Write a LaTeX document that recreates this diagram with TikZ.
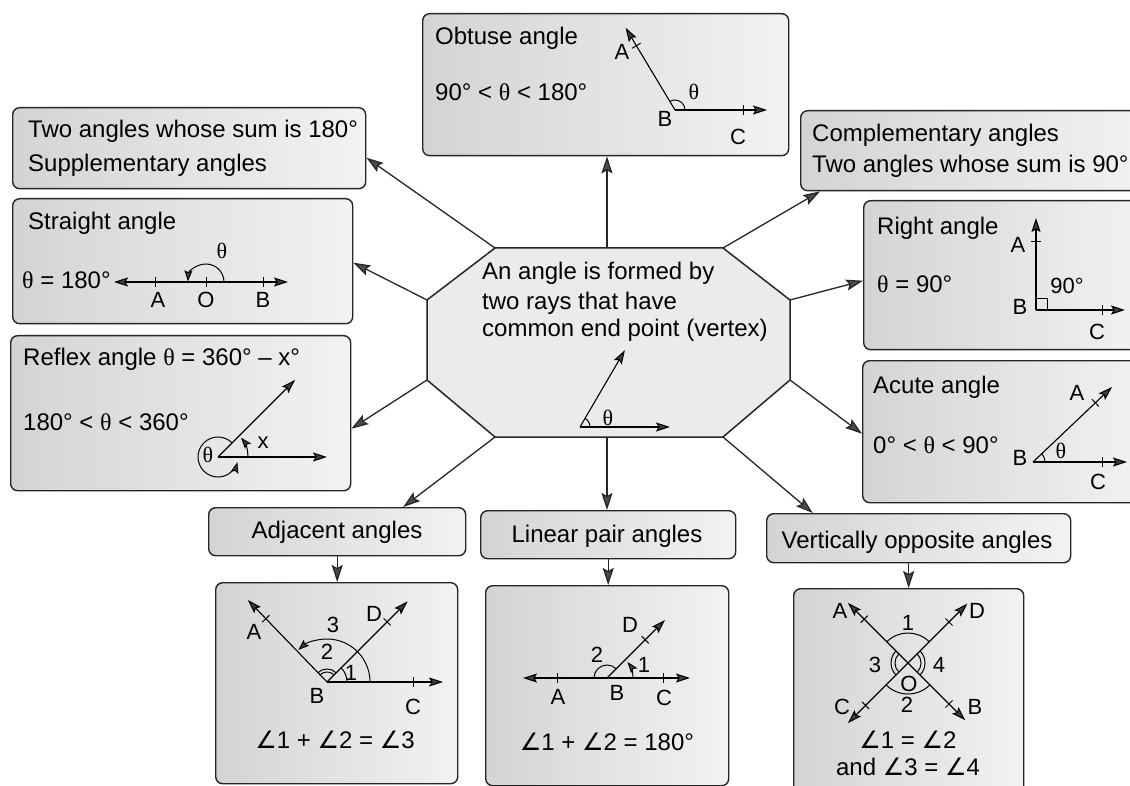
\documentclass[tikz,border=0pt]{standalone}
\usepackage{fontspec}
\setmainfont{Liberation Sans}
\newfontfamily\thfont{Liberation Serif}
\newfontfamily\dvfont{DejaVu Sans}
\usetikzlibrary{arrows.meta,calc}
\newcommand{\thet}{{\thfont θ}}
\newcommand{\ang}{{\dvfont ∠}}
\newcommand{\tkmark}[3]{\draw[tick] ($(#1)+(#2:#3pt)$) +(#2+90:5pt) -- +(#2-90:5pt);}
\tikzset{
 box/.style={draw=black!85, line width=1.4pt, rounded corners=7pt, left color=black!17, right color=black!5, inner sep=0pt, anchor=north west},
 conn/.style={line width=1.3pt, draw=black!85, -{Stealth[length=17pt,width=11pt,inset=3pt,fill=black!70]}},
 ray/.style={line width=1.1pt, -{Stealth[length=14pt,width=9pt,inset=2.5pt,fill=black!75]}},
 bray/.style={line width=1.1pt, {Stealth[length=14pt,width=9pt,inset=2.5pt,fill=black!75]}-{Stealth[length=14pt,width=9pt,inset=2.5pt,fill=black!75]}},
 arcl/.style={line width=1pt},
 arca/.style={line width=1pt, -{Stealth[length=11pt,width=8pt,inset=2pt,fill=black!75]}},
 txt/.style={font=\fontsize{24}{28}\selectfont, inner sep=0pt, anchor=base west},
 ctxt/.style={font=\fontsize{24}{28}\selectfont, inner sep=0pt, anchor=base},
 lbl/.style={font=\fontsize{22}{26}\selectfont, inner sep=0pt},
 tick/.style={line width=1pt}
}
\begin{document}
\begin{tikzpicture}[x=1pt,y=-1pt]
\useasboundingbox (0,0) rectangle (1130,786);
\clip (0,0) rectangle (1130,786);
\fill[white] (0,0) rectangle (1130,786);

% ---------- boxes ----------
\node[box, minimum width=366pt, minimum height=142pt] (obt) at (422,13) {};
\node[box, minimum width=353pt, minimum height=81pt] (supp) at (12,107) {};
\node[box, minimum width=340pt, minimum height=125pt] (str) at (12,198) {};
\node[box, minimum width=340pt, minimum height=155pt] (rfx) at (10,335) {};
\node[box, minimum width=345pt, minimum height=80pt] (comp) at (800,110) {};
\node[box, minimum width=282pt, minimum height=149pt] (rgt) at (863,200) {};
\node[box, minimum width=283pt, minimum height=142pt] (acu) at (862,360) {};
\node[box, minimum width=257pt, minimum height=48pt] (adjl) at (208,507) {};
\node[box, minimum width=242pt, minimum height=201pt] (adjc) at (215,582) {};
\node[box, minimum width=255pt, minimum height=48pt] (linl) at (480,510) {};
\node[box, minimum width=243pt, minimum height=200pt] (linc) at (485,585) {};
\node[box, minimum width=304pt, minimum height=49pt] (vl) at (766,513) {};
\node[box, minimum width=230pt, minimum height=204pt] (vc) at (793,588) {};

% ---------- octagon ----------
\coordinate (o1) at (495,248); \coordinate (o2) at (723,248);
\coordinate (o3) at (790,300); \coordinate (o4) at (790,380);
\coordinate (o5) at (723,437); \coordinate (o6) at (495,437);
\coordinate (o7) at (427,380); \coordinate (o8) at (427,300);
\coordinate (ot) at (607,248); \coordinate (ob) at (607,437);
\draw[line width=1.5pt, draw=black!85, fill=black!8] (o1)--(o2)--(o3)--(o4)--(o5)--(o6)--(o7)--(o8)--cycle;

% ---------- connectors ----------
\draw[conn] (ot) -- (ot |- obt.south);
\draw[conn] (o1) -- ([yshift=-9.5pt]supp.east);
\draw[conn] (o8) -- ([yshift=-1.5pt]str.east);
\draw[conn] (o7) -- ([yshift=-15.5pt]rfx.east);
\draw[conn] (o6) -- ([xshift=66pt]adjl.north);
\draw[conn] (ob) -- (ob |- linl.north);
\draw[conn] (o5) -- ([xshift=-106pt]vl.north);
\draw[conn] (o2) -- ([xshift=20pt]comp.south west);
\draw[conn] (o3) -- ([yshift=-5.5pt]rgt.west);
\draw[conn] (o4) -- ([yshift=-2pt]acu.west);
\draw[conn] (adjl.south) -- (adjl.south |- adjc.north);
\draw[conn] (linl.south) -- (linl.south |- linc.north);
\draw[conn] (vc.north |- vl.south) -- (vc.north);

% ---------- texts ----------
\node[txt] (t1) at (435,45) {Obtuse angle};
\node[txt] (t2) at (435,101) {90° < \thet{} < 180°};
\node[txt] (t3) at (28,138) {Two angles whose sum is 180°};
\node[txt] (t4) at (28,172) {Supplementary angles};
\node[txt] (t5) at (28,230) {Straight angle};
\node[txt] (t6) at (22,289) {\thet{} = 180°};
\node[txt] (t7) at (23,365) {Reflex angle \thet{} = 360° – x°};
\node[txt] (t8) at (23,430) {180° < \thet{} < 360°};
\node[txt] (t9) at (812,142) {Complementary angles};
\node[txt] (t10) at (812,173) {Two angles whose sum is 90°};
\node[txt] (t11) at (877,235) {Right angle};
\node[txt] (t12) at (877,293) {\thet{} = 90°};
\node[txt] (t13) at (873,393) {Acute angle};
\node[txt] (t14) at (873,453) {0° < \thet{} < 90°};
\node[txt] (t15) at (482,280) {An angle is formed by};
\node[txt] (t16) at (482,310) {two rays that have};
\node[txt] (t17) at (482,337) {common end point (vertex)};
\node[ctxt] (t18) at (337,538) {Adjacent angles};
\node[ctxt] (t19) at (607,542) {Linear pair angles};
\node[ctxt] (t20) at (917,548) {Vertically opposite angles};
\node[ctxt] (t21) at (335,748) {\ang1 + \ang2 = \ang3};
\node[ctxt] (t22) at (607,750) {\ang1 + \ang2 = 180°};
\node[ctxt] (t23) at (908,748) {\ang1 = \ang2};
\node[ctxt] (t24) at (908,775) {and \ang3 = \ang4};

% ---------- obtuse diagram ----------
\coordinate (obV) at (675,110);
\draw[ray] (obV) -- ++(121:96pt);
\draw[ray] (obV) -- ++(0:92pt);
\tkmark{obV}{121}{75}
\tkmark{obV}{0}{68}
\draw[arcl] ($(obV)+(0:10pt)$) arc[start angle=0,end angle=121,radius=10pt];
\node[lbl] (obA) at (622,52) {A};
\node[lbl] (obB) at (665,119) {B};
\node[lbl] (obC) at (738,137) {C};
\node[lbl] (obT) at (694,92) {\thet};

% ---------- straight diagram ----------
\coordinate (stO) at (206,282);
\draw[bray] (114,282) -- (288,282);
\foreach \xx in {155,206,263} \draw[tick] (\xx,277) -- (\xx,287);
\draw[arca] ($(stO)+(0:18pt)$) arc[start angle=0,end angle=178,radius=18pt];
\node[lbl] (stA) at (158,300) {A};
\node[lbl] (stOl) at (206,300) {O};
\node[lbl] (stB) at (263,300) {B};
\node[lbl] (stT) at (222,251) {\thet};

% ---------- reflex diagram ----------
\coordinate (rfV) at (218,457);
\draw[ray] (rfV) -- ++(45:109pt);
\draw[ray] (rfV) -- ++(0:109pt);
\draw[arca] ($(rfV)+(45:20pt)$) arc[start angle=45,end angle=345,radius=20pt];
\draw[arca] ($(rfV)+(0:30pt)$) arc[start angle=0,end angle=40,radius=30pt];
\node[lbl] (rfT) at (208,455) {\thet};
\node[lbl] (rfX) at (263,443) {x};

% ---------- right angle diagram ----------
\coordinate (rtV) at (1036,310);
\draw[ray] (rtV) -- ++(90:92pt);
\draw[ray] (rtV) -- ++(0:89pt);
\tkmark{rtV}{90}{68}
\tkmark{rtV}{0}{66}
\draw[arcl] (rtV) rectangle ++(11,-11);
\node[lbl] (rtA) at (1018,245) {A};
\node[lbl] (rtB) at (1020,307) {B};
\node[lbl] (rtC) at (1097,332) {C};
\node[lbl] (rt90) at (1067,286) {90°};

% ---------- acute diagram ----------
\coordinate (acV) at (1033,462);
\draw[ray] (acV) -- ++(43.5:109pt);
\draw[ray] (acV) -- ++(0:94pt);
\tkmark{acV}{43.5}{86}
\tkmark{acV}{0}{69}
\draw[arcl] ($(acV)+(0:12pt)$) arc[start angle=0,end angle=43.5,radius=12pt];
\node[lbl] (acA) at (1077,393) {A};
\node[lbl] (acB) at (1020,458) {B};
\node[lbl] (acC) at (1098,482) {C};
\node[lbl] (acT) at (1061,451) {\thet};

% ---------- centre diagram ----------
\coordinate (cV) at (580,427);
\draw[ray] (cV) -- ++(59.7:89pt);
\draw[ray] (cV) -- ++(0:90pt);
\draw[arcl] ($(cV)+(0:10pt)$) arc[start angle=0,end angle=59.7,radius=10pt];
\node[lbl] (cT) at (608,418) {\thet};

% ---------- adjacent diagram ----------
\coordinate (adV) at (327,682);
\draw[ray] (adV) -- ++(134:114pt);
\draw[ray] (adV) -- ++(45:114pt);
\draw[ray] (adV) -- ++(0:116pt);
\tkmark{adV}{134}{88}
\tkmark{adV}{45}{85}
\tkmark{adV}{0}{86}
\draw[arca] ($(adV)+(0:43pt)$) arc[start angle=0,end angle=132,radius=43pt];
\draw[arcl] ($(adV)+(0:20pt)$) arc[start angle=0,end angle=45,radius=20pt];
\draw[arcl] ($(adV)+(45:10pt)$) arc[start angle=45,end angle=134,radius=10pt];
\draw[arcl] ($(adV)+(45:13pt)$) arc[start angle=45,end angle=134,radius=13pt];
\node[lbl] (adA) at (254,632) {A};
\node[lbl] (adD) at (374,614) {D};
\node[lbl] (ad3) at (333,625) {3};
\node[lbl] (ad2) at (327,652) {2};
\node[lbl] (ad1) at (351,673) {1};
\node[lbl] (adB) at (317,696) {B};
\node[lbl] (adC) at (413,707) {C};

% ---------- linear pair diagram ----------
\coordinate (lnV) at (607,678);
\draw[bray] (523,678) -- (690,678);
\draw[tick] (557,673) -- (557,683);
\draw[tick] (663,673) -- (663,683);
\draw[ray] (lnV) -- ++(45:82pt);
\tkmark{lnV}{45}{54}
\draw[arcl] ($(lnV)+(45:13pt)$) arc[start angle=45,end angle=180,radius=13pt];
\draw[arca] ($(lnV)+(0:26pt)$) arc[start angle=0,end angle=38,radius=26pt];
\node[lbl] (lnD) at (630,625) {D};
\node[lbl] (ln2) at (597,655) {2};
\node[lbl] (ln1) at (644,665) {1};
\node[lbl] (lnA) at (558,697) {A};
\node[lbl] (lnB) at (617,693) {B};
\node[lbl] (lnC) at (664,698) {C};

% ---------- vertically opposite diagram ----------
\coordinate (vO) at (908,663);
\draw[ray] (vO) -- ++(135:85pt);
\draw[ray] (vO) -- ++(-45:81pt);
\draw[ray] (vO) -- ++(45:84pt);
\draw[ray] (vO) -- ++(225:85pt);
\tkmark{vO}{135}{62}
\tkmark{vO}{45}{58}
\tkmark{vO}{225}{60}
\tkmark{vO}{-45}{58}
\draw[arcl] ($(vO)+(45:30pt)$) arc[start angle=45,end angle=135,radius=30pt];
\draw[arcl] ($(vO)+(225:31pt)$) arc[start angle=225,end angle=315,radius=31pt];
\draw[arcl] ($(vO)+(135:13pt)$) arc[start angle=135,end angle=225,radius=13pt];
\draw[arcl] ($(vO)+(135:17pt)$) arc[start angle=135,end angle=225,radius=17pt];
\draw[arcl] ($(vO)+(-45:13pt)$) arc[start angle=-45,end angle=45,radius=13pt];
\draw[arcl] ($(vO)+(-45:17pt)$) arc[start angle=-45,end angle=45,radius=17pt];
\node[lbl] (vA) at (840,611) {A};
\node[lbl] (vD) at (977,611) {D};
\node[lbl] (vC) at (842,707) {C};
\node[lbl] (vB) at (975,707) {B};
\node[lbl] (v1) at (908,623) {1};
\node[lbl] (v2) at (907,705) {2};
\node[lbl] (v3) at (875,665) {3};
\node[lbl] (v4) at (939,665) {4};
\node[lbl] (vOl) at (909,684) {O};
\end{tikzpicture}
\end{document}
